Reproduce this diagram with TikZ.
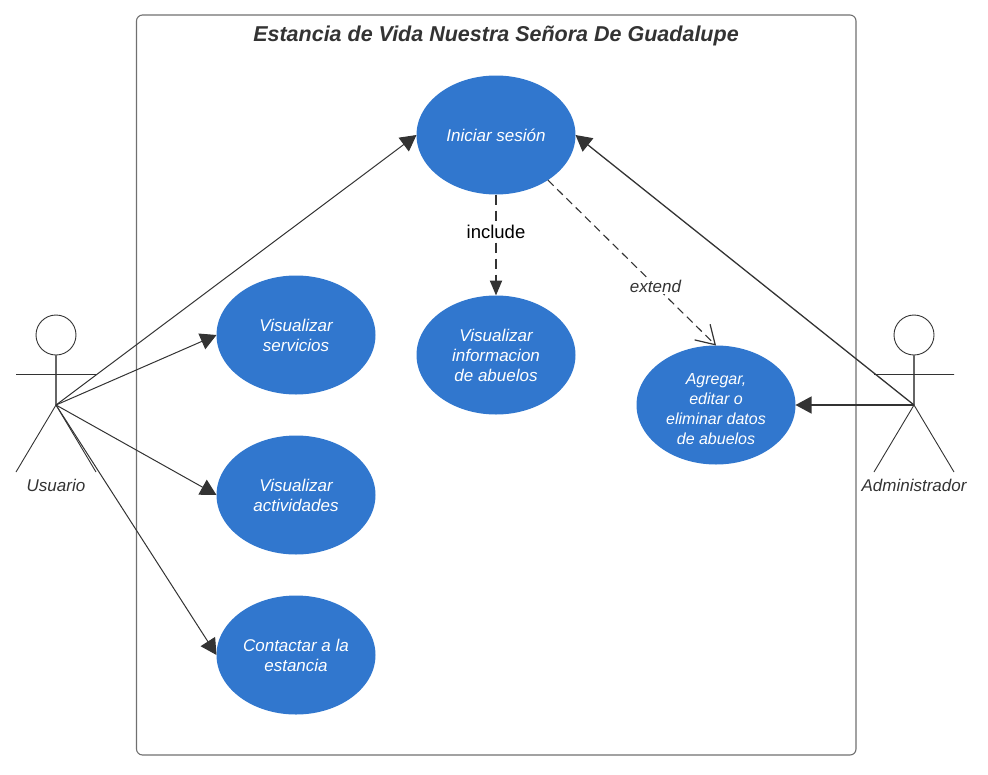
\documentclass[tikz,border=0pt]{standalone}
\usepackage{fontspec}
\setmainfont{Liberation Sans}
\usetikzlibrary{shapes.geometric,arrows.meta}
\definecolor{ucblue}{HTML}{3177CE}
\definecolor{ink}{HTML}{333333}
\tikzset{
  uc/.style={ellipse,fill=ucblue,text=white,minimum width=159pt,minimum height=119pt,inner sep=0pt,outer sep=0pt,align=center,font=\fontsize{17}{20}\selectfont\itshape},
  ucsmall/.style={align=center,text=white,font=\fontsize{16}{20}\selectfont\itshape},
  rel/.style={draw=ink,line width=1pt,-{Triangle[length=16pt,width=17pt,fill=ink]}},
  incl/.style={draw=ink,line width=2pt,dash pattern=on 10pt off 6pt,-{Triangle[length=15pt,width=12pt,fill=ink]}},
  limb/.style={draw=ink,line width=.9pt},
  spine/.style={draw=ink!75,line width=1.1pt},
  head/.style={circle,draw=ink,line width=.9pt,minimum size=40pt,inner sep=0pt,outer sep=0pt},
  actorlabel/.style={font=\fontsize{17}{20}\selectfont\itshape,text=ink},
}
\begin{document}
\begin{tikzpicture}[x=1pt,y=-1pt]
\useasboundingbox (0,0) rectangle (988,774);
\draw[draw=ink!70,line width=1.1pt,rounded corners=6pt] (136.5,15) rectangle (856,755);
\node[font=\fontsize{21.5}{24}\selectfont\bfseries\itshape,text=ink] (title) at (496,36) {Estancia de Vida Nuestra Señora De Guadalupe};
\node[uc] (login) at (496,135) {Iniciar sesión};
\node[uc] (serv) at (296,335) {Visualizar\\servicios};
\node[uc] (act) at (296,495) {Visualizar\\actividades};
\node[uc] (cont) at (296,655) {Contactar a la\\estancia};
\node[uc] (info) at (496,355) {Visualizar\\informacion\\de abuelos};
\node[uc] (edit) at (716,405) {};
\node[ucsmall] (edittext) at (716,409) {Agregar,\\editar o\\eliminar datos\\de abuelos};
% Usuario
\node[head] (uh) at (56,335) {};
\coordinate (uhip) at (56,405);
\coordinate (ula) at (16,374.5);
\coordinate (ura) at (96,374.5);
\coordinate (ull) at (16,472);
\coordinate (url) at (96,472);
\draw[spine] (uh.south) -- (uhip);
\draw[limb] (ula) -- (ura) (uhip) -- (ull) (uhip) -- (url);
\node[actorlabel] (ul) at (56,485) {Usuario};
% Administrador
\node[head] (ah) at (914,335) {};
\coordinate (ahip) at (914,405);
\coordinate (ala) at (874,374.5);
\coordinate (ara) at (954,374.5);
\coordinate (all) at (874,472);
\coordinate (arl) at (954,472);
\draw[spine] (ah.south) -- (ahip);
\draw[limb] (ala) -- (ara) (ahip) -- (all) (ahip) -- (arl);
\node[actorlabel] (al) at (914,485) {Administrador};
% connectors
\draw[rel] (uhip) -- (login.west);
\draw[rel] (uhip) -- (serv.west);
\draw[rel] (uhip) -- (act.west);
\draw[rel] (uhip) -- (cont.west);
\draw[rel,line width=1.3pt] (ahip) -- (login.east);
\draw[rel,line width=1.3pt] (ahip) -- (edit.east);
\draw[incl] (login.south) -- node[pos=.37,fill=white,text=black,inner sep=1.5pt,font=\fontsize{18.5}{20}\selectfont] (inc) {include} (info.north);
\draw[draw=ink,line width=1.1pt,dash pattern=on 8pt off 5pt,-{Straight Barb[length=18pt,width=22pt,line width=1.2pt]}] (login.-41) -- node[pos=.64,fill=white,text=ink,inner sep=1.5pt,font=\fontsize{17}{20}\selectfont\itshape] (ext) {extend} (edit.north);
\end{tikzpicture}
\end{document}
